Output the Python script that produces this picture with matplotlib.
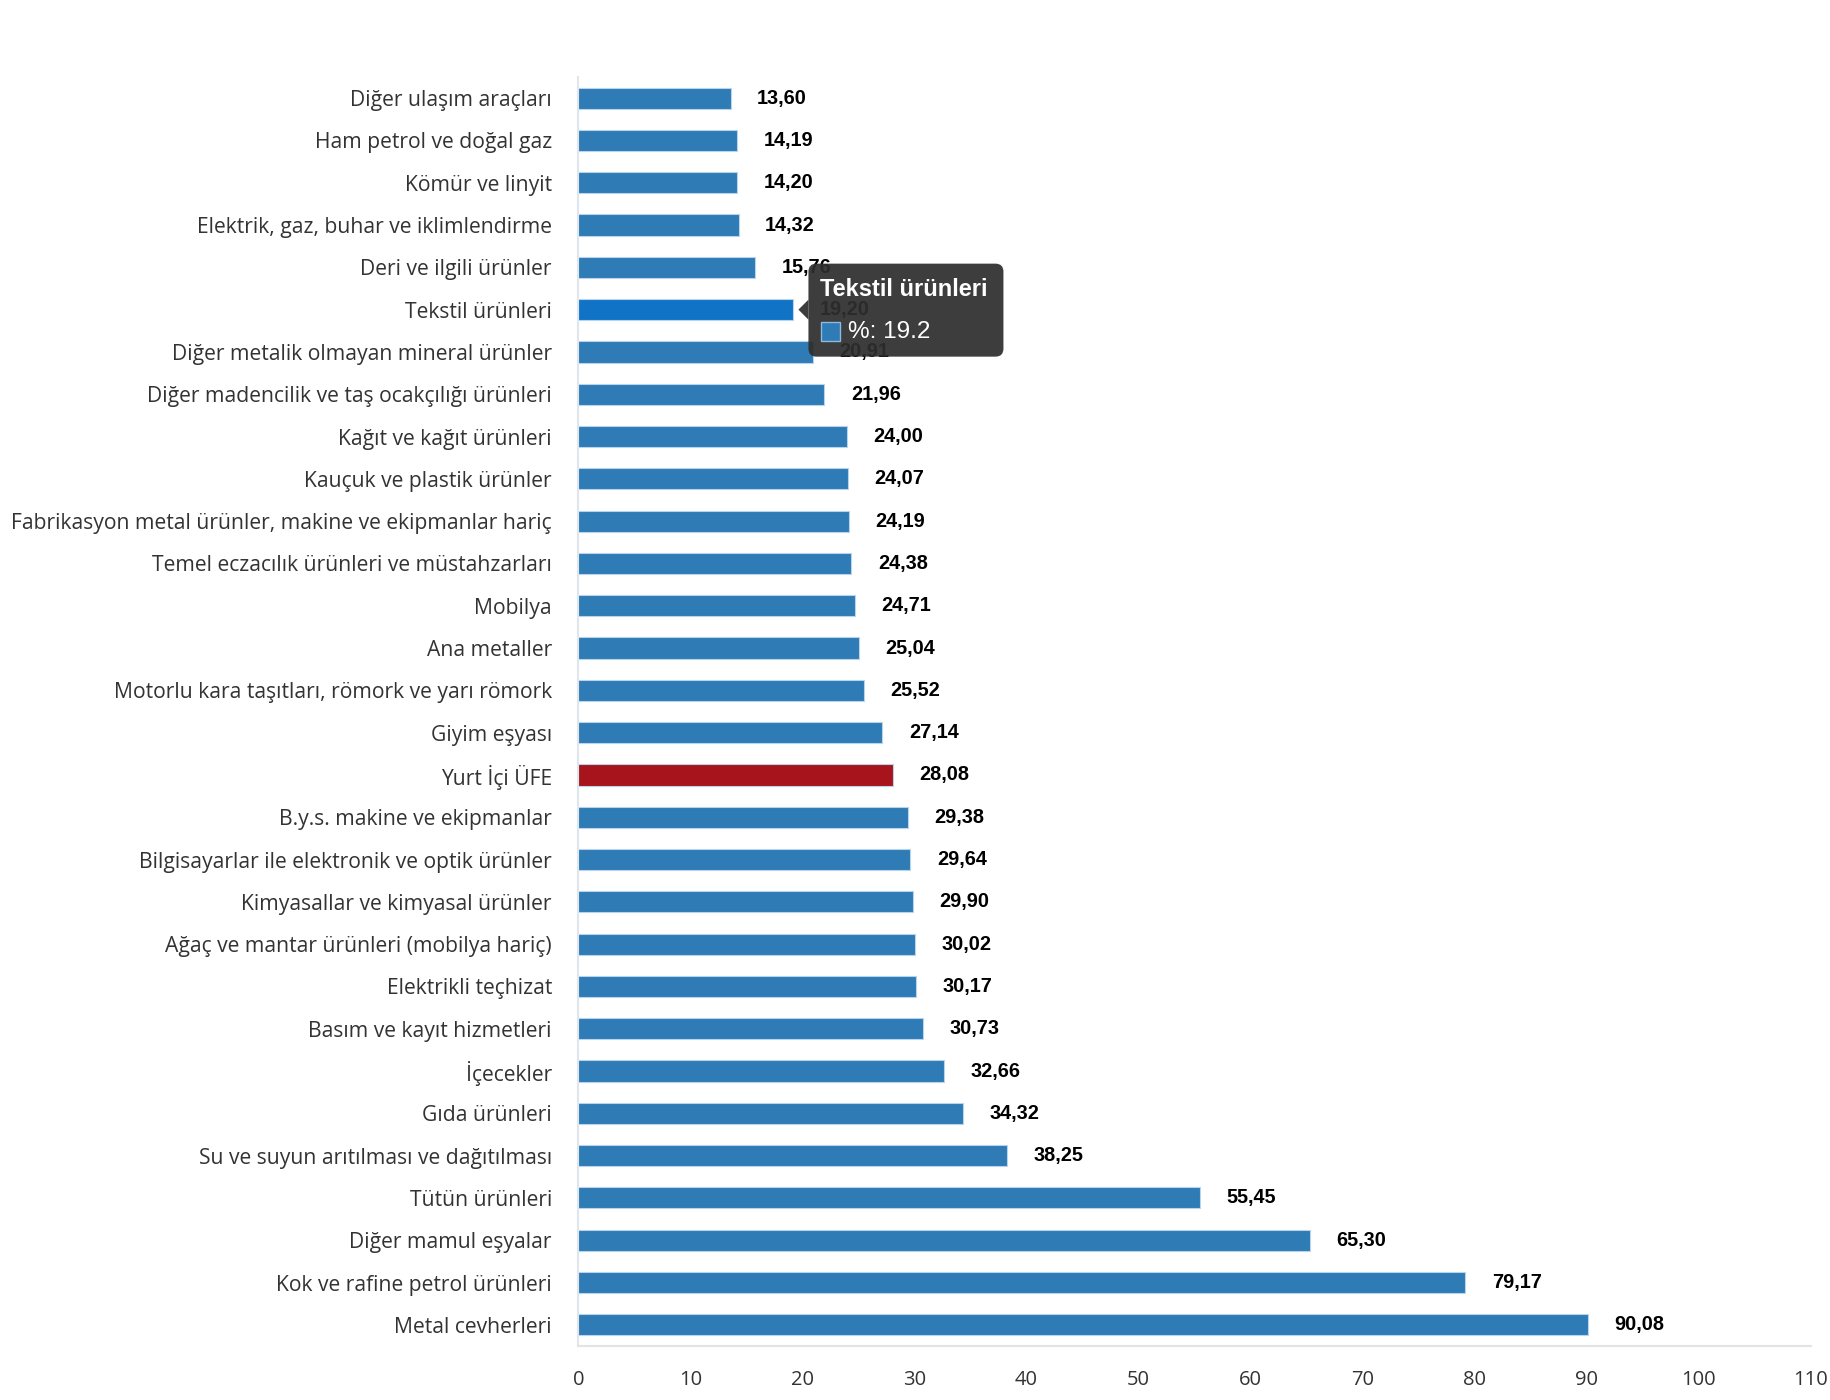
import matplotlib.pyplot as plt
from matplotlib.patches import FancyBboxPatch, Polygon, Rectangle
from matplotlib.transforms import IdentityTransform

# Veriler (yukaridan asagiya)
kategoriler = [
    "Diğer ulaşım araçları",
    "Ham petrol ve doğal gaz",
    "Kömür ve linyit",
    "Elektrik, gaz, buhar ve iklimlendirme",
    "Deri ve ilgili ürünler",
    "Tekstil ürünleri",
    "Diğer metalik olmayan mineral ürünler",
    "Diğer madencilik ve taş ocakçılığı ürünleri",
    "Kağıt ve kağıt ürünleri",
    "Kauçuk ve plastik ürünler",
    "Fabrikasyon metal ürünler, makine ve ekipmanlar hariç",
    "Temel eczacılık ürünleri ve müstahzarları",
    "Mobilya",
    "Ana metaller",
    "Motorlu kara taşıtları, römork ve yarı römork",
    "Giyim eşyası",
    "Yurt İçi ÜFE",
    "B.y.s. makine ve ekipmanlar",
    "Bilgisayarlar ile elektronik ve optik ürünler",
    "Kimyasallar ve kimyasal ürünler",
    "Ağaç ve mantar ürünleri (mobilya hariç)",
    "Elektrikli teçhizat",
    "Basım ve kayıt hizmetleri",
    "İçecekler",
    "Gıda ürünleri",
    "Su ve suyun arıtılması ve dağıtılması",
    "Tütün ürünleri",
    "Diğer mamul eşyalar",
    "Kok ve rafine petrol ürünleri",
    "Metal cevherleri",
]
degerler = [13.60, 14.19, 14.20, 14.32, 15.76, 19.20, 20.91, 21.96, 24.00, 24.07,
            24.19, 24.38, 24.71, 25.04, 25.52, 27.14, 28.08, 29.38, 29.64, 29.90,
            30.02, 30.17, 30.73, 32.66, 34.32, 38.25, 55.45, 65.30, 79.17, 90.08]
xticks = [0, 10, 20, 30, 40, 50, 60, 70, 80, 90, 100, 110]

mavi = "#2e7bb6"
kirmizi = "#a8141b"
secili = "#1173c6"
secili_kategori = "Tekstil ürünleri"

renkler = []
for k in kategoriler:
    if k == "Yurt İçi ÜFE":
        renkler.append(kirmizi)
    elif k == secili_kategori:
        renkler.append(secili)
    else:
        renkler.append(mavi)

fig = plt.figure(figsize=(18.3, 14), dpi=100)
ax = fig.add_axes([0.316, 0.0386, 0.9896 - 0.316, 0.945 - 0.0386])

y = list(range(len(kategoriler)))
ax.barh(y, degerler, height=0.5, color=renkler, edgecolor="#b8d4ec", linewidth=0.8, zorder=2)

ax.set_ylim(len(kategoriler) - 0.5, -0.5)
ax.set_xlim(0, 110)
ax.set_xticks(xticks)
ax.set_yticks(y)
ax.set_yticklabels(kategoriler, fontfamily="Open Sans", fontsize=15.2, color="#333333")
ax.set_xticklabels([str(t) for t in xticks], fontfamily="Open Sans", fontsize=14.5, color="#333333")
ax.tick_params(axis="y", length=0, pad=19)
ax.tick_params(axis="x", length=0, pad=17)

for s in ["top", "right"]:
    ax.spines[s].set_visible(False)
ax.spines["left"].set_color("#e0e6ee")
ax.spines["bottom"].set_color("#e3e3e3")
ax.spines["left"].set_linewidth(1.5)
ax.spines["bottom"].set_linewidth(1.5)

for yi, v in zip(y, degerler):
    ax.annotate(f"{v:.2f}".replace(".", ","), (v, yi), xytext=(19, 0), textcoords="offset points",
                va="center", ha="left", fontfamily="Liberation Sans", fontweight="bold",
                fontsize=14.3, color="black", zorder=3)

# Tooltip
fig.canvas.draw()
idx = kategoriler.index(secili_kategori)
px, py = ax.transData.transform((degerler[idx], idx))
tip_x = px + 5
H = fig.bbox.height
bx0, bx1 = tip_x + 10, tip_x + 205
by0, by1 = py - 47, py + 46
kutu = FancyBboxPatch((bx0, by0), bx1 - bx0, by1 - by0, boxstyle="round,pad=0,rounding_size=8",
                      transform=IdentityTransform(), fc="#2e2e2e", ec="none", alpha=0.93, zorder=10)
fig.patches.append(kutu)
uc = Polygon([(tip_x, py), (bx0, py + 10), (bx0, py - 10)], closed=True,
             transform=IdentityTransform(), fc="#2e2e2e", ec="none", alpha=0.93, zorder=10)
fig.patches.append(uc)
fig.text((bx0 + 12) / fig.bbox.width, (py + 20) / H, secili_kategori, color="white",
         fontfamily="Liberation Sans", fontweight="bold", fontsize=17, va="center", ha="left", zorder=11)
kare = Rectangle((bx0 + 13, py - 31), 19, 19, transform=IdentityTransform(),
                 fc=mavi, ec="#8fb8dc", lw=1, zorder=11)
fig.patches.append(kare)
fig.text((bx0 + 40) / fig.bbox.width, (py - 22) / H, f"%: {degerler[idx]:g}", color="white",
         fontfamily="Liberation Sans", fontsize=17.5, va="center", ha="left", zorder=11)

plt.savefig("out.png", dpi=100)
